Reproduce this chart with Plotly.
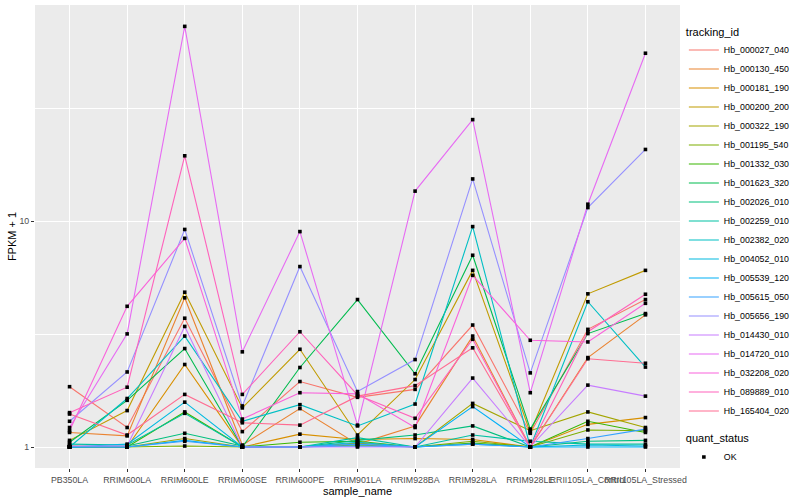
import plotly.graph_objects as go

samples = ["PB350LA", "RRIM600LA", "RRIM600LE", "RRIM600SE", "RRIM600PE", "RRIM901LA",
           "RRIM928BA", "RRIM928LA", "RRIM928LE", "RRII105LA_Control", "RRII105LA_Stressed"]

Hb_000027_040 = [1.85, 1.22, 3.72, 1.17, 1.95, 1.66, 1.80, 3.47, 1.15, 3.32, 4.50]
Hb_000130_450 = [1.16, 1.12, 4.58, 1.02, 1.48, 1.03, 1.24, 3.10, 1.00, 2.49, 3.85]
Hb_000181_190 = [1.00, 1.00, 2.32, 1.00, 1.14, 1.08, 1.09, 1.08, 1.00, 1.26, 1.35]
Hb_000200_200 = [1.07, 1.45, 4.85, 1.49, 2.71, 1.13, 1.99, 6.06, 1.16, 4.77, 6.06]
Hb_000322_190 = [1.01, 1.00, 1.09, 1.00, 1.00, 1.04, 1.00, 1.56, 1.18, 1.43, 1.22]
Hb_001195_540 = [1.00, 1.00, 1.01, 1.00, 1.00, 1.02, 1.00, 1.06, 1.00, 1.19, 1.18]
Hb_001332_030 = [1.00, 1.00, 1.43, 1.00, 1.05, 1.06, 1.00, 1.04, 1.00, 1.30, 1.16]
Hb_001623_320 = [1.05, 1.61, 2.73, 1.00, 2.25, 4.50, 2.11, 7.07, 1.20, 3.18, 3.90]
Hb_002026_010 = [1.00, 1.01, 1.15, 1.01, 1.00, 1.07, 1.13, 1.24, 1.00, 1.06, 1.07]
Hb_002259_010 = [1.03, 1.02, 1.41, 1.00, 1.00, 1.10, 1.00, 1.13, 1.06, 1.03, 1.03]
Hb_002382_020 = [1.00, 1.64, 3.10, 1.30, 1.54, 1.24, 1.55, 9.47, 1.00, 4.40, 2.26]
Hb_004052_010 = [1.00, 1.03, 1.58, 1.00, 1.00, 1.05, 1.00, 1.03, 1.00, 1.02, 1.01]
Hb_005539_120 = [1.00, 1.00, 1.07, 1.00, 1.00, 1.01, 1.00, 1.51, 1.00, 1.00, 1.00]
Hb_005615_050 = [1.00, 1.00, 1.06, 1.00, 1.00, 1.03, 1.00, 1.03, 1.00, 1.09, 1.20]
Hb_005656_190 = [1.30, 2.15, 9.20, 1.52, 6.30, 1.76, 2.44, 15.4, 2.13, 11.5, 20.8]
Hb_014430_010 = [1.01, 1.01, 3.42, 1.00, 1.00, 1.00, 1.00, 2.02, 1.00, 1.88, 1.68]
Hb_014720_010 = [1.22, 3.17, 73.0, 2.64, 9.00, 1.25, 13.6, 28.2, 1.74, 11.9, 55.5]
Hb_032208_020 = [1.18, 4.20, 8.40, 1.33, 1.74, 1.72, 1.22, 5.76, 2.97, 2.92, 4.33]
Hb_089889_010 = [1.42, 1.84, 19.5, 1.71, 3.24, 1.70, 1.34, 3.00, 1.00, 3.24, 4.75]
Hb_165404_020 = [1.40, 1.13, 1.71, 1.28, 1.25, 1.68, 1.87, 2.75, 1.00, 2.46, 2.35]

tracking_ids = ["Hb_000027_040", "Hb_000130_450", "Hb_000181_190", "Hb_000200_200",
                "Hb_000322_190", "Hb_001195_540", "Hb_001332_030", "Hb_001623_320",
                "Hb_002026_010", "Hb_002259_010", "Hb_002382_020", "Hb_004052_010",
                "Hb_005539_120", "Hb_005615_050", "Hb_005656_190", "Hb_014430_010",
                "Hb_014720_010", "Hb_032208_020", "Hb_089889_010", "Hb_165404_020"]
series = [Hb_000027_040, Hb_000130_450, Hb_000181_190, Hb_000200_200, Hb_000322_190,
          Hb_001195_540, Hb_001332_030, Hb_001623_320, Hb_002026_010, Hb_002259_010,
          Hb_002382_020, Hb_004052_010, Hb_005539_120, Hb_005615_050, Hb_005656_190,
          Hb_014430_010, Hb_014720_010, Hb_032208_020, Hb_089889_010, Hb_165404_020]
colors = ["#F8766D", "#EA8331", "#D89000", "#C09B00", "#A3A500", "#7CAE00", "#39B600",
          "#00BB4E", "#00BF7D", "#00C1A3", "#00BFC4", "#00BAE0", "#00B0F6", "#35A2FF",
          "#9590FF", "#C77CFF", "#E76BF3", "#FA62DB", "#FF62BC", "#FF6C91"]

FONT = "Liberation Sans, Arial, sans-serif"

fig = go.Figure()
for name, vals, col in zip(tracking_ids, series, colors):
    fig.add_trace(go.Scatter(x=samples, y=vals, mode="lines", name=name,
                             line=dict(color=col, width=1.1), legend="legend"))

all_x = [s for vals in series for s in samples]
all_y = [v for vals in series for v in vals]
fig.add_trace(go.Scatter(x=all_x, y=all_y, mode="markers", name="OK",
                         marker=dict(color="black", size=3.6, symbol="square"),
                         legend="legend2"))

fig.update_layout(
    width=800, height=500,
    margin=dict(l=35, r=116, t=5, b=32),
    paper_bgcolor="white", plot_bgcolor="#EBEBEB",
    font=dict(family=FONT, size=9, color="black"),
    legend=dict(title=dict(text="tracking_id", font=dict(size=11)),
                x=1.006, xanchor="left", y=0.965, yanchor="top",
                font=dict(size=8.8), bgcolor="rgba(0,0,0,0)",
                tracegroupgap=0, itemwidth=30),
    legend2=dict(title=dict(text="quant_status", font=dict(size=11)),
                 x=1.006, xanchor="left", y=0.086, yanchor="top",
                 font=dict(size=8.8), bgcolor="rgba(0,0,0,0)", itemwidth=30),
    xaxis=dict(type="category", categoryorder="array", categoryarray=samples,
               range=[-0.6, len(samples) - 0.4],
               showgrid=True, gridcolor="white", gridwidth=1.1,
               ticks="outside", ticklen=3, tickcolor="#333333", tickwidth=1,
               tickangle=0,
               tickfont=dict(size=8.8, color="#4D4D4D"),
               title=dict(text="sample_name", font=dict(size=11), standoff=2),
               zeroline=False, showline=False, automargin=False),
    yaxis=dict(type="log", range=[-0.093, 1.958],
               tickmode="array", tickvals=[1, 10], ticktext=["1", "10"],
               showgrid=True, gridcolor="white", gridwidth=1.1,
               minor=dict(tickmode="array", tickvals=[3.1623, 31.623], showgrid=True,
                          gridcolor="white", gridwidth=0.55, ticks=""),
               ticks="outside", ticklen=3, tickcolor="#333333", tickwidth=1,
               tickfont=dict(size=8.8, color="#4D4D4D"),
               title=dict(text="FPKM + 1", font=dict(size=11), standoff=0),
               zeroline=False, showline=False, automargin=False),
)

fig.write_html("out.html", config={"displayModeBar": False},
               post_script="document.body.style.margin='0';")
